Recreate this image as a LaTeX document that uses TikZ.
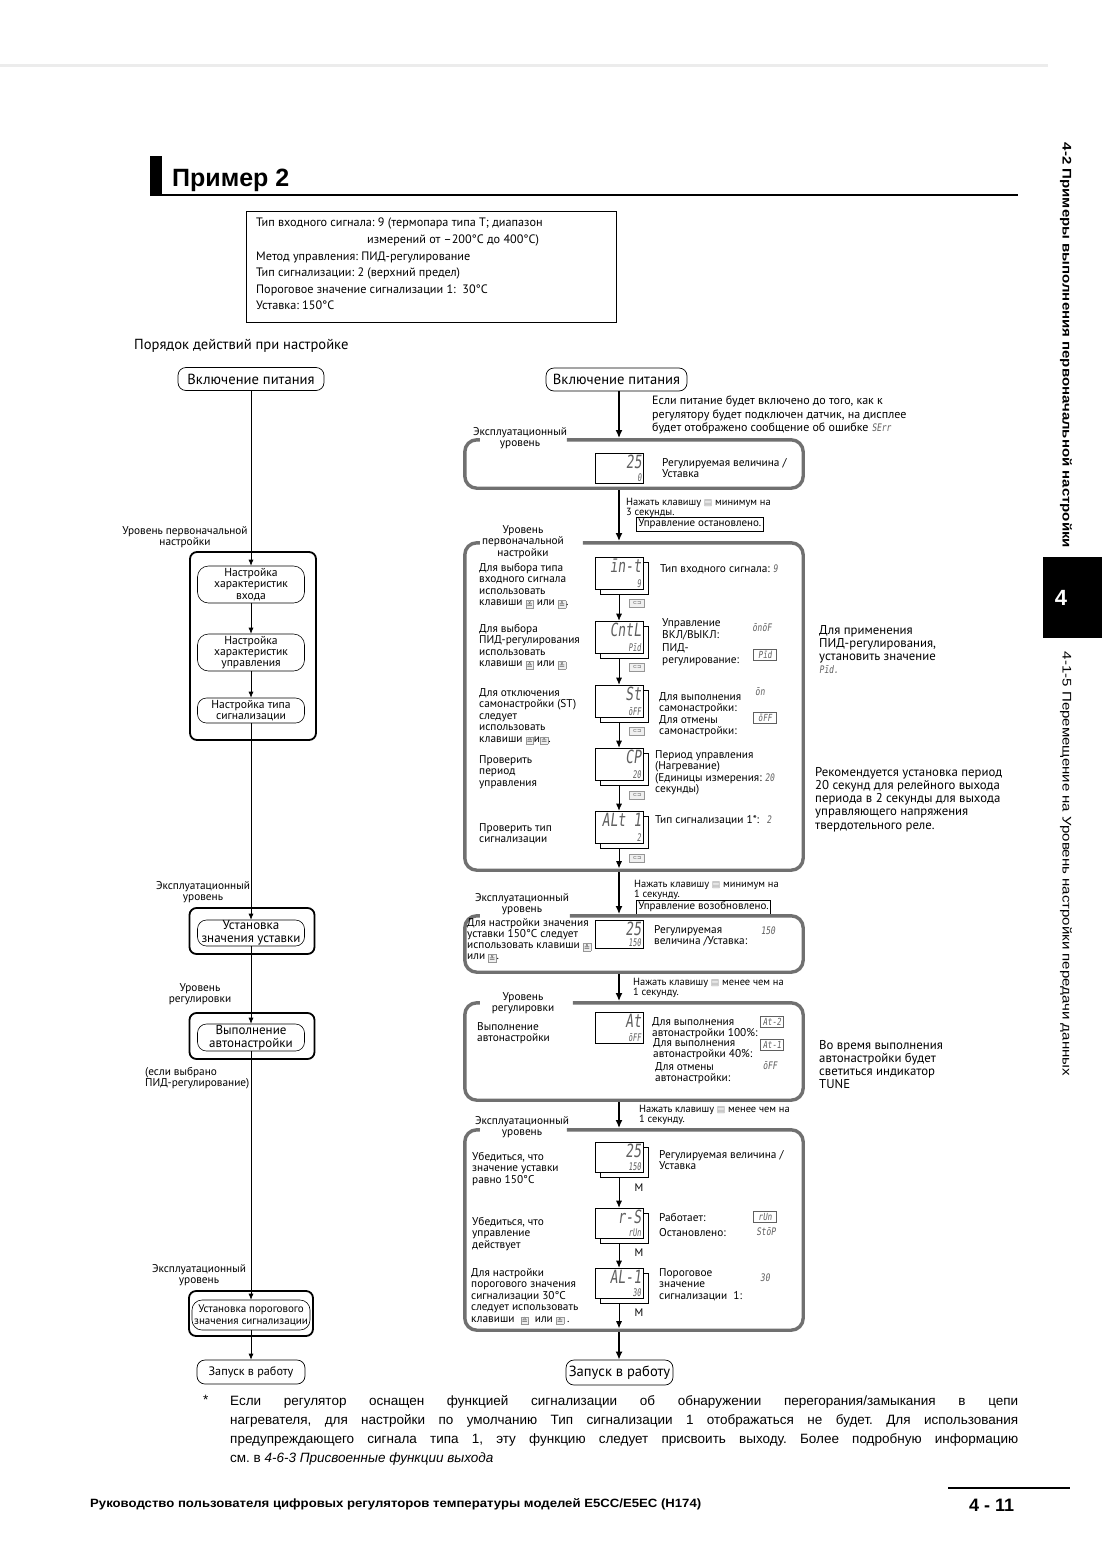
\documentclass[tikz,border=0pt]{standalone}
\usepackage{fontspec}
\usepackage{graphicx}
\setmainfont{PT Sans}
\newfontfamily\arial{Liberation Sans}
\newfontfamily\dejavu{DejaVu Sans}
\newfontfamily\seg{DejaVu Sans Mono}[FakeSlant=0.18]
\usetikzlibrary{arrows.meta,calc}
\frenchspacing
\definecolor{bord}{RGB}{112,112,112}
\definecolor{segc}{RGB}{95,95,95}
\definecolor{keyc}{RGB}{150,150,150}
\newcommand\fsz[2]{\fontsize{#1}{#2}\selectfont}
\newcommand\kup{\raisebox{-1.5pt}{\setlength\fboxsep{0.6pt}\setlength\fboxrule{0.4pt}\fcolorbox{keyc}{gray!12}{\dejavu\fsz{7.5}{7.5}\color{black!70}≙}}}
\newcommand\kdn{\raisebox{-1.5pt}{\setlength\fboxsep{0.6pt}\setlength\fboxrule{0.4pt}\fcolorbox{keyc}{gray!12}{\dejavu\fsz{7.5}{7.5}\color{black!70}≚}}}
\newcommand\kmode{\raisebox{-0.5pt}{\dejavu\fsz{9}{9}\color{keyc}▤}}
\newcommand\sgv[1]{{\seg\fsz{8}{8}\color{segc}\scalebox{1}[1.3]{#1}}}
\newcommand\dsp[7]{%
  \ifnum#7=1\relax\node[dbox, minimum height=#4] (#1s) at (#2+5,#3+5) {};\fi
  \node[dbox, minimum height=#4] (#1) at (#2,#3) {};
  \node[segbig, anchor=north east] (#1t) at ([shift={(-2,2)}]#1.north east) {\scalebox{1}[1.4]{#5}};
  \node[segsm, anchor=south east] (#1b) at ([shift={(-2,-1.5)}]#1.south east) {\scalebox{1}[1.5]{#6}};
}
\newcommand\bigframe[2]{\draw[bigborder] ($(#1.north west)+(#2,0)$) -- (#1.north east) -- (#1.south east) -- (#1.south west) -- (#1.north west) -- ($(#1.north west)+(15,0)$);}
\tikzset{
  lab/.style={font=\fsz{11.3}{11.5}, inner sep=0pt, align=left, anchor=north west},
  labc/.style={font=\fsz{11.3}{11.5}, inner sep=0pt, align=center, anchor=north},
  press/.style={font=\fsz{10.4}{10}, inner sep=0pt, align=left, anchor=north west},
  annot/.style={font=\fsz{12.8}{13.2}, inner sep=0pt, align=left, anchor=north west},
  pill/.style={draw, line width=0.7pt, rounded corners=8pt, inner sep=0pt},
  obox/.style={draw, line width=1.8pt, rounded corners=7pt, inner sep=0pt},
  ibox/.style={draw, line width=0.6pt, rounded corners=11pt, inner sep=0pt, align=center, font=\fsz{11.6}{11.3}},
  bigbox/.style={inner sep=0pt, minimum width=338},
  bigborder/.style={draw=bord, line width=3.4pt, rounded corners=12pt},
  larrow/.style={line width=0.7pt, -{Latex[length=6pt,width=5pt]}},
  rarrow/.style={line width=1.8pt, -{Latex[length=8pt,width=7pt]}},
  iarrow/.style={line width=0.8pt, -{Latex[length=7pt,width=6pt]}},
  dbox/.style={draw, line width=0.6pt, fill=white, minimum width=48, inner sep=0pt},
  segbig/.style={font=\seg\fsz{13}{13}, text=segc, inner sep=0pt},
  segsm/.style={font=\seg\fsz{7}{7}, text=segc, inner sep=0pt},
  segv/.style={font=\seg\fsz{8}{8}, text=segc, inner sep=0pt},
  segbox/.style={draw=segc, line width=0.5pt, font=\seg\fsz{7.5}{7.5}, text=segc, inner sep=0pt, minimum width=23, minimum height=11},
  entk/.style={draw=keyc, fill=gray!12, line width=0.4pt, minimum width=15, minimum height=8, inner sep=0pt, font=\dejavu\fsz{5}{5}, text=black!70},
  msym/.style={font=\fsz{11}{11}, inner sep=0pt}
}
\begin{document}
\begin{tikzpicture}[x=1pt,y=-1pt]
\fill[white] (0,0) rectangle (1102,1558);
\useasboundingbox (0,0) rectangle (1102,1558);
% page furniture
\fill[gray!15] (0,64) rectangle (1048,67);
\fill (150,156) rectangle (162,195);
\draw[line width=2pt] (150,195) -- (1018,195);
\node[anchor=base west, inner sep=0, font=\arial\bfseries\fsz{25}{25}] (title) at (172,186) {Пример 2};
\fill (1043,557) rectangle (1102,638);
\node[text=white, font=\arial\bfseries\fsz{22}{22}] (tab) at (1061,598) {4};
\node[rotate=-90, inner sep=0, font=\arial\bfseries\fsz{12.5}{12.5}] (vt1) at (1066,345.5) {\resizebox{405pt}{\height}{4-2 Примеры выполнения первоначальной настройки}};
\node[rotate=-90, inner sep=0, font=\arial\fsz{12.5}{12.5}] (vt2) at (1066,864) {\resizebox{424pt}{\height}{4-1-5 Перемещение на Уровень настройки передачи данных}};

% input box
\node[draw, line width=0.6pt, anchor=north west, minimum width=370, minimum height=111, inner sep=0] (inbox) at (246,211) {};
\node[font=\fsz{12.2}{16.6}, anchor=north west, inner sep=0, align=left] (intext) at (256,218) {Тип входного сигнала: 9 (термопара типа T; диапазон\\\hspace*{111pt}измерений от –200°C до 400°C)\\Метод управления: ПИД-регулирование\\Тип сигнализации: 2 (верхний предел)\\Пороговое значение сигнализации 1:\ \ 30°C\\Уставка: 150°C};
\node[font=\fsz{14.6}{15}, anchor=west, inner sep=0] (order) at (134,346) {Порядок действий при настройке};

% ===== left column =====
\node[pill, font=\fsz{14.6}{15}, minimum width=146, minimum height=23] (Lpwr) at (251,379) {Включение питания};
\node[labc] (Llab1) at (185,526) {Уровень первоначальной\\настройки};
\node[obox, minimum width=126, minimum height=188] (L1) at (253,646) {};
\node[ibox, minimum width=107, minimum height=37] (L1a) at (251,584.5) {Настройка\\характеристик\\входа};
\node[ibox, minimum width=107, minimum height=37] (L1b) at (251,652.5) {Настройка\\характеристик\\управления};
\node[ibox, minimum width=107, minimum height=25, rounded corners=9pt] (L1c) at (251,710.5) {Настройка типа\\сигнализации};
\node[labc] (Llab2) at (203,881) {Эксплуатационный\\уровень};
\node[obox, minimum width=125, minimum height=46] (L2) at (252,931) {};
\node[ibox, minimum width=107, minimum height=26, font=\fsz{13}{12.7}, rounded corners=9pt] (L2i) at (251,933) {Установка\\значения уставки};
\node[labc] (Llab3) at (200,983) {Уровень\\регулировки};
\node[obox, minimum width=125, minimum height=46] (L3) at (252,1036) {};
\node[ibox, minimum width=107, minimum height=27, font=\fsz{13}{12.7}, rounded corners=9pt] (L3i) at (251,1037.5) {Выполнение\\автонастройки};
\node[lab] (Llab4) at (145,1067) {(если выбрано\\ПИД-регулирование)};
\node[labc] (Llab5) at (199,1264) {Эксплуатационный\\уровень};
\node[obox, minimum width=124, minimum height=45] (L4) at (251,1313.5) {};
\node[ibox, minimum width=118, minimum height=30, font=\fsz{11}{12}, rounded corners=10pt] (L4i) at (251,1315) {Установка порогового\\значения сигнализации};
\node[pill, font=\fsz{12.2}{13}, minimum width=108, minimum height=24] (Lend) at (251,1372) {Запуск в работу};
\draw[larrow] (Lpwr) -- (L1a);
\draw[larrow] (L1a) -- (L1b);
\draw[larrow] (L1b) -- (L1c);
\draw[larrow] (L1c) -- (L2i);
\draw[larrow] (L2i) -- (L3i);
\draw[larrow] (L3i) -- (L4i);
\draw[larrow] (L4i) -- (Lend);

% ===== right column =====
\coordinate (ax) at (619,0);
\node[pill, font=\fsz{14.6}{15}, minimum width=141, minimum height=23] (Rpwr) at (616.5,379.5) {Включение питания};
\node[annot, font=\fsz{12}{13.3}] (note1) at (652,396) {Если питание будет включено до того, как к\\регулятору будет подключен датчик, на дисплее\\будет отображено сообщение об ошибке \sgv{SErr}};

% box A
\node[bigbox, minimum height=48] (bA) at (634,464) {};
\bigframe{bA}{102}
\node[labc] (labA) at (520,427) {Эксплуатационный\\уровень};
\dsp{DA}{619.5}{468}{30}{25}{0}{0}
\node[lab] (RA) at (662,458) {Регулируемая величина /\\Уставка};
\node[press] (pressA) at (626,498) {Нажать клавишу \kmode\ минимум на\\3 секунды.};
\node[draw, line width=0.6pt, font=\fsz{11}{11}, inner sep=2pt, anchor=west] (stopA) at (636,524) {Управление остановлено.};

% box B
\node[bigbox, minimum height=327] (bB) at (634,706.5) {};
\bigframe{bB}{118}
\node[labc] (labB) at (523,525) {Уровень\\первоначальной\\настройки};
\dsp{D1}{619}{573}{32}{īn-t}{9}{1}
\dsp{D2}{619}{637}{32}{CntL}{Pīd}{1}
\dsp{D3}{619}{701}{32}{St}{ōFF}{1}
\dsp{D4}{619}{764}{32}{CP}{20}{1}
\dsp{D5}{619}{827}{32}{ALt 1}{2}{1}
\node[entk] (K1) at (637,603) {⊂⊐};
\node[entk] (K2) at (637,667) {⊂⊐};
\node[entk] (K3) at (637,731) {⊂⊐};
\node[entk] (K4) at (637,795) {⊂⊐};
\node[entk] (K5) at (637,858) {⊂⊐};
\draw[iarrow] (D1.south |- D1s.south) -- (D2.north);
\draw[iarrow] (D2.south |- D2s.south) -- (D3.north);
\draw[iarrow] (D3.south |- D3s.south) -- (D4.north);
\draw[iarrow] (D4.south |- D4s.south) -- (D5.north);
\draw[iarrow, shorten >=2pt] (D5.south |- D5s.south) -- (bB.south -| ax);
\node[lab] (TB1) at (479,563) {Для выбора типа\\входного сигнала\\использовать\\клавиши \kdn\ или \kup.};
\node[lab] (TB2) at (479,624) {Для выбора\\ПИД-регулирования\\использовать\\клавиши \kup\ или \kdn};
\node[lab] (TB3) at (479,688) {Для отключения\\самонастройки (ST)\\следует\\использовать\\клавиши \kup и\kdn.};
\node[lab] (TB4) at (479,755) {Проверить\\период\\управления};
\node[lab] (TB5) at (479,823) {Проверить тип\\сигнализации};
\node[lab] (RB1) at (660,564) {Тип входного сигнала:\ \sgv{9}};
\node[lab, font=\fsz{11.3}{12}] (RB2) at (662,618) {Управление\\ВКЛ/ВЫКЛ:};
\node[segv] (RB2v) at (762,628) {\scalebox{1}[1.3]{ōnōF}};
\node[lab, font=\fsz{11.3}{12.5}] (RB2b) at (662,643) {ПИД-\\регулирование:};
\node[segbox] (RB2w) at (765,655) {\scalebox{1}[1.3]{Pīd}};
\node[lab] (RB3) at (659,692) {Для выполнения\\самонастройки:};
\node[segv] (RB3v) at (760,692) {\scalebox{1}[1.3]{ōn}};
\node[lab] (RB3b) at (659,715) {Для отмены\\самонастройки:};
\node[segbox] (RB3w) at (765,718) {\scalebox{1}[1.3]{ōFF}};
\node[lab] (RB4) at (655,750) {Период управления\\(Нагревание)\\(Единицы измерения:\ \sgv{20}\\секунды)};
\node[lab] (RB5) at (655,815) {Тип сигнализации 1*:};
\node[segv] (RB5v) at (769,820) {\scalebox{1}[1.3]{2}};
\node[press] (pressB) at (634,880) {Нажать клавишу \kmode\ минимум на\\1 секунду.};
\node[draw, line width=0.6pt, font=\fsz{11}{11}, inner sep=2pt, anchor=west] (resB) at (636,907) {Управление возобновлено.};

% box C
\node[bigbox, minimum height=56] (bC) at (634,944) {};
\bigframe{bC}{105}
\node[labc] (labC) at (522,893) {Эксплуатационный\\уровень};
\dsp{DC}{619}{934}{28}{25}{150}{0}
\node[lab, font=\fsz{11.3}{11.2}] (TC) at (467,918) {Для настройки значения\\уставки 150°C следует\\использовать клавиши \kup\\или \kdn.};
\node[lab] (RC) at (654,925) {Регулируемая\\величина /Уставка:};
\node[segv] (RCv) at (768,931) {\scalebox{1}[1.3]{150}};
\node[press] (pressC) at (633,978) {Нажать клавишу \kmode\ менее чем на\\1 секунду.};

% box D
\node[bigbox, minimum height=97] (bD) at (634,1051.5) {};
\bigframe{bD}{108}
\node[labc] (labD) at (523,992) {Уровень\\регулировки};
\dsp{DD}{619}{1027.5}{31}{At}{ōFF}{0}
\node[lab] (TD) at (477,1022) {Выполнение\\автонастройки};
\node[lab] (RD1) at (652,1017) {Для выполнения\\автонастройки 100\%:};
\node[segbox] (RD1w) at (772,1022) {\scalebox{1}[1.3]{At-2}};
\node[lab] (RD2) at (653,1038) {Для выполнения\\автонастройки 40\%:};
\node[segbox] (RD2w) at (772,1045) {\scalebox{1}[1.3]{At-1}};
\node[lab] (RD3) at (655,1062) {Для отмены\\автонастройки:};
\node[segv] (RD3v) at (770,1066) {\scalebox{1}[1.3]{ōFF}};
\node[press] (pressD) at (639,1105) {Нажать клавишу \kmode\ менее чем на\\1 секунду.};

% box E
\node[bigbox, minimum height=200] (bE) at (634,1230) {};
\bigframe{bE}{102}
\node[labc] (labE) at (522,1116) {Эксплуатационный\\уровень};
\dsp{E1}{619}{1157}{30}{25}{150}{1}
\dsp{E2}{619}{1223}{30}{r-S}{rUn}{1}
\dsp{E3}{619}{1283}{30}{AL-1}{30}{1}
\draw[iarrow] (E1.south |- E1s.south) -- (E2.north);
\draw[iarrow] (E2.south |- E2s.south) -- (E3.north);
\draw[iarrow, shorten >=2pt] (E3.south |- E3s.south) -- (bE.south -| ax);
\node[msym] (M1) at (639,1188) {M};
\node[msym] (M2) at (639,1253) {M};
\node[msym] (M3) at (639,1313) {M};
\node[lab] (TE1) at (472,1152) {Убедиться, что\\значение уставки\\равно 150°C};
\node[lab] (TE2) at (472,1217) {Убедиться, что\\управление\\действует};
\node[lab] (TE3) at (471,1268) {Для настройки\\порогового значения\\сигнализации 30°C\\следует использовать\\клавиши \ \kup\ \ или \kdn\ .};
\node[lab] (RE1) at (659,1150) {Регулируемая величина /\\Уставка};
\node[lab] (RE2) at (659,1213) {Работает:};
\node[lab] (RE2b) at (659,1228) {Остановлено:};
\node[segbox] (RE2w) at (765,1217) {\scalebox{1}[1.3]{rUn}};
\node[segv] (RE2v) at (766,1232) {\scalebox{1}[1.3]{StōP}};
\node[lab] (RE3) at (659,1268) {Пороговое\\значение\\сигнализации\ \ 1:};
\node[segv] (RE3v) at (765,1278) {\scalebox{1}[1.3]{30}};
\node[pill, font=\fsz{14.6}{15}, minimum width=107, minimum height=25] (Rend) at (619.5,1372.5) {Запуск в работу};

% main right connectors
\draw[rarrow, shorten >=1.7pt] (Rpwr.south -| ax) -- (bA.north -| ax);
\draw[rarrow, shorten <=1.7pt, shorten >=1.7pt] (bA.south -| ax) -- (bB.north -| ax);
\draw[rarrow, shorten <=1.7pt, shorten >=1.7pt] (bB.south -| ax) -- (bC.north -| ax);
\draw[rarrow, shorten <=1.7pt, shorten >=1.7pt] (bC.south -| ax) -- (bD.north -| ax);
\draw[rarrow, shorten <=1.7pt, shorten >=1.7pt] (bD.south -| ax) -- (bE.north -| ax);
\draw[rarrow, shorten <=1.7pt] (bE.south -| ax) -- (Rend.north -| ax);

% annotations
\node[annot] (an1) at (819,625) {Для применения\\ПИД-регулирования,\\установить значение\\\sgv{Pīd.}};
\begin{scope}
\clip (805,750) rectangle (1001,840);
\node[annot] (an2) at (815,767) {Рекомендуется установка периода\\20 секунд для релейного выхода\\периода в 2 секунды для выхода\\управляющего напряжения\\твердотельного реле.};
\end{scope}
\node[annot] (an3) at (819,1040) {Во время выполнения\\автонастройки будет\\светиться индикатор\\TUNE};

% footnote
\node[anchor=north west, inner sep=0, font=\arial\fsz{13.5}{13.5}] (fnstar) at (203,1395) {*};
\node[anchor=north west, inner sep=0, font=\arial\fsz{13.5}{19}, align=left] (fn) at (230,1395) {\makebox[788pt][s]{Если регулятор оснащен функцией сигнализации об обнаружении перегорания/замыкания в цепи}\\\makebox[788pt][s]{нагревателя, для настройки по умолчанию Тип сигнализации 1 отображаться не будет. Для использования}\\\makebox[788pt][s]{предупреждающего сигнала типа 1, эту функцию следует присвоить выходу. Более подробную информацию}\\см. в \textit{4-6-3 Присвоенные функции выхода}};

% footer
\draw[line width=2pt] (948,1488) -- (1070,1488);
\node[anchor=west, inner sep=0, font=\arial\bfseries\fsz{12}{12}] (foot) at (90,1504) {\resizebox{611pt}{\height}{Руководство пользователя цифровых регуляторов температуры моделей E5CC/E5EC (H174)}};
\node[anchor=west, inner sep=0, font=\arial\bfseries\fsz{18}{18}] (pnum) at (969,1505) {4 - 11};
\end{tikzpicture}
\end{document}
